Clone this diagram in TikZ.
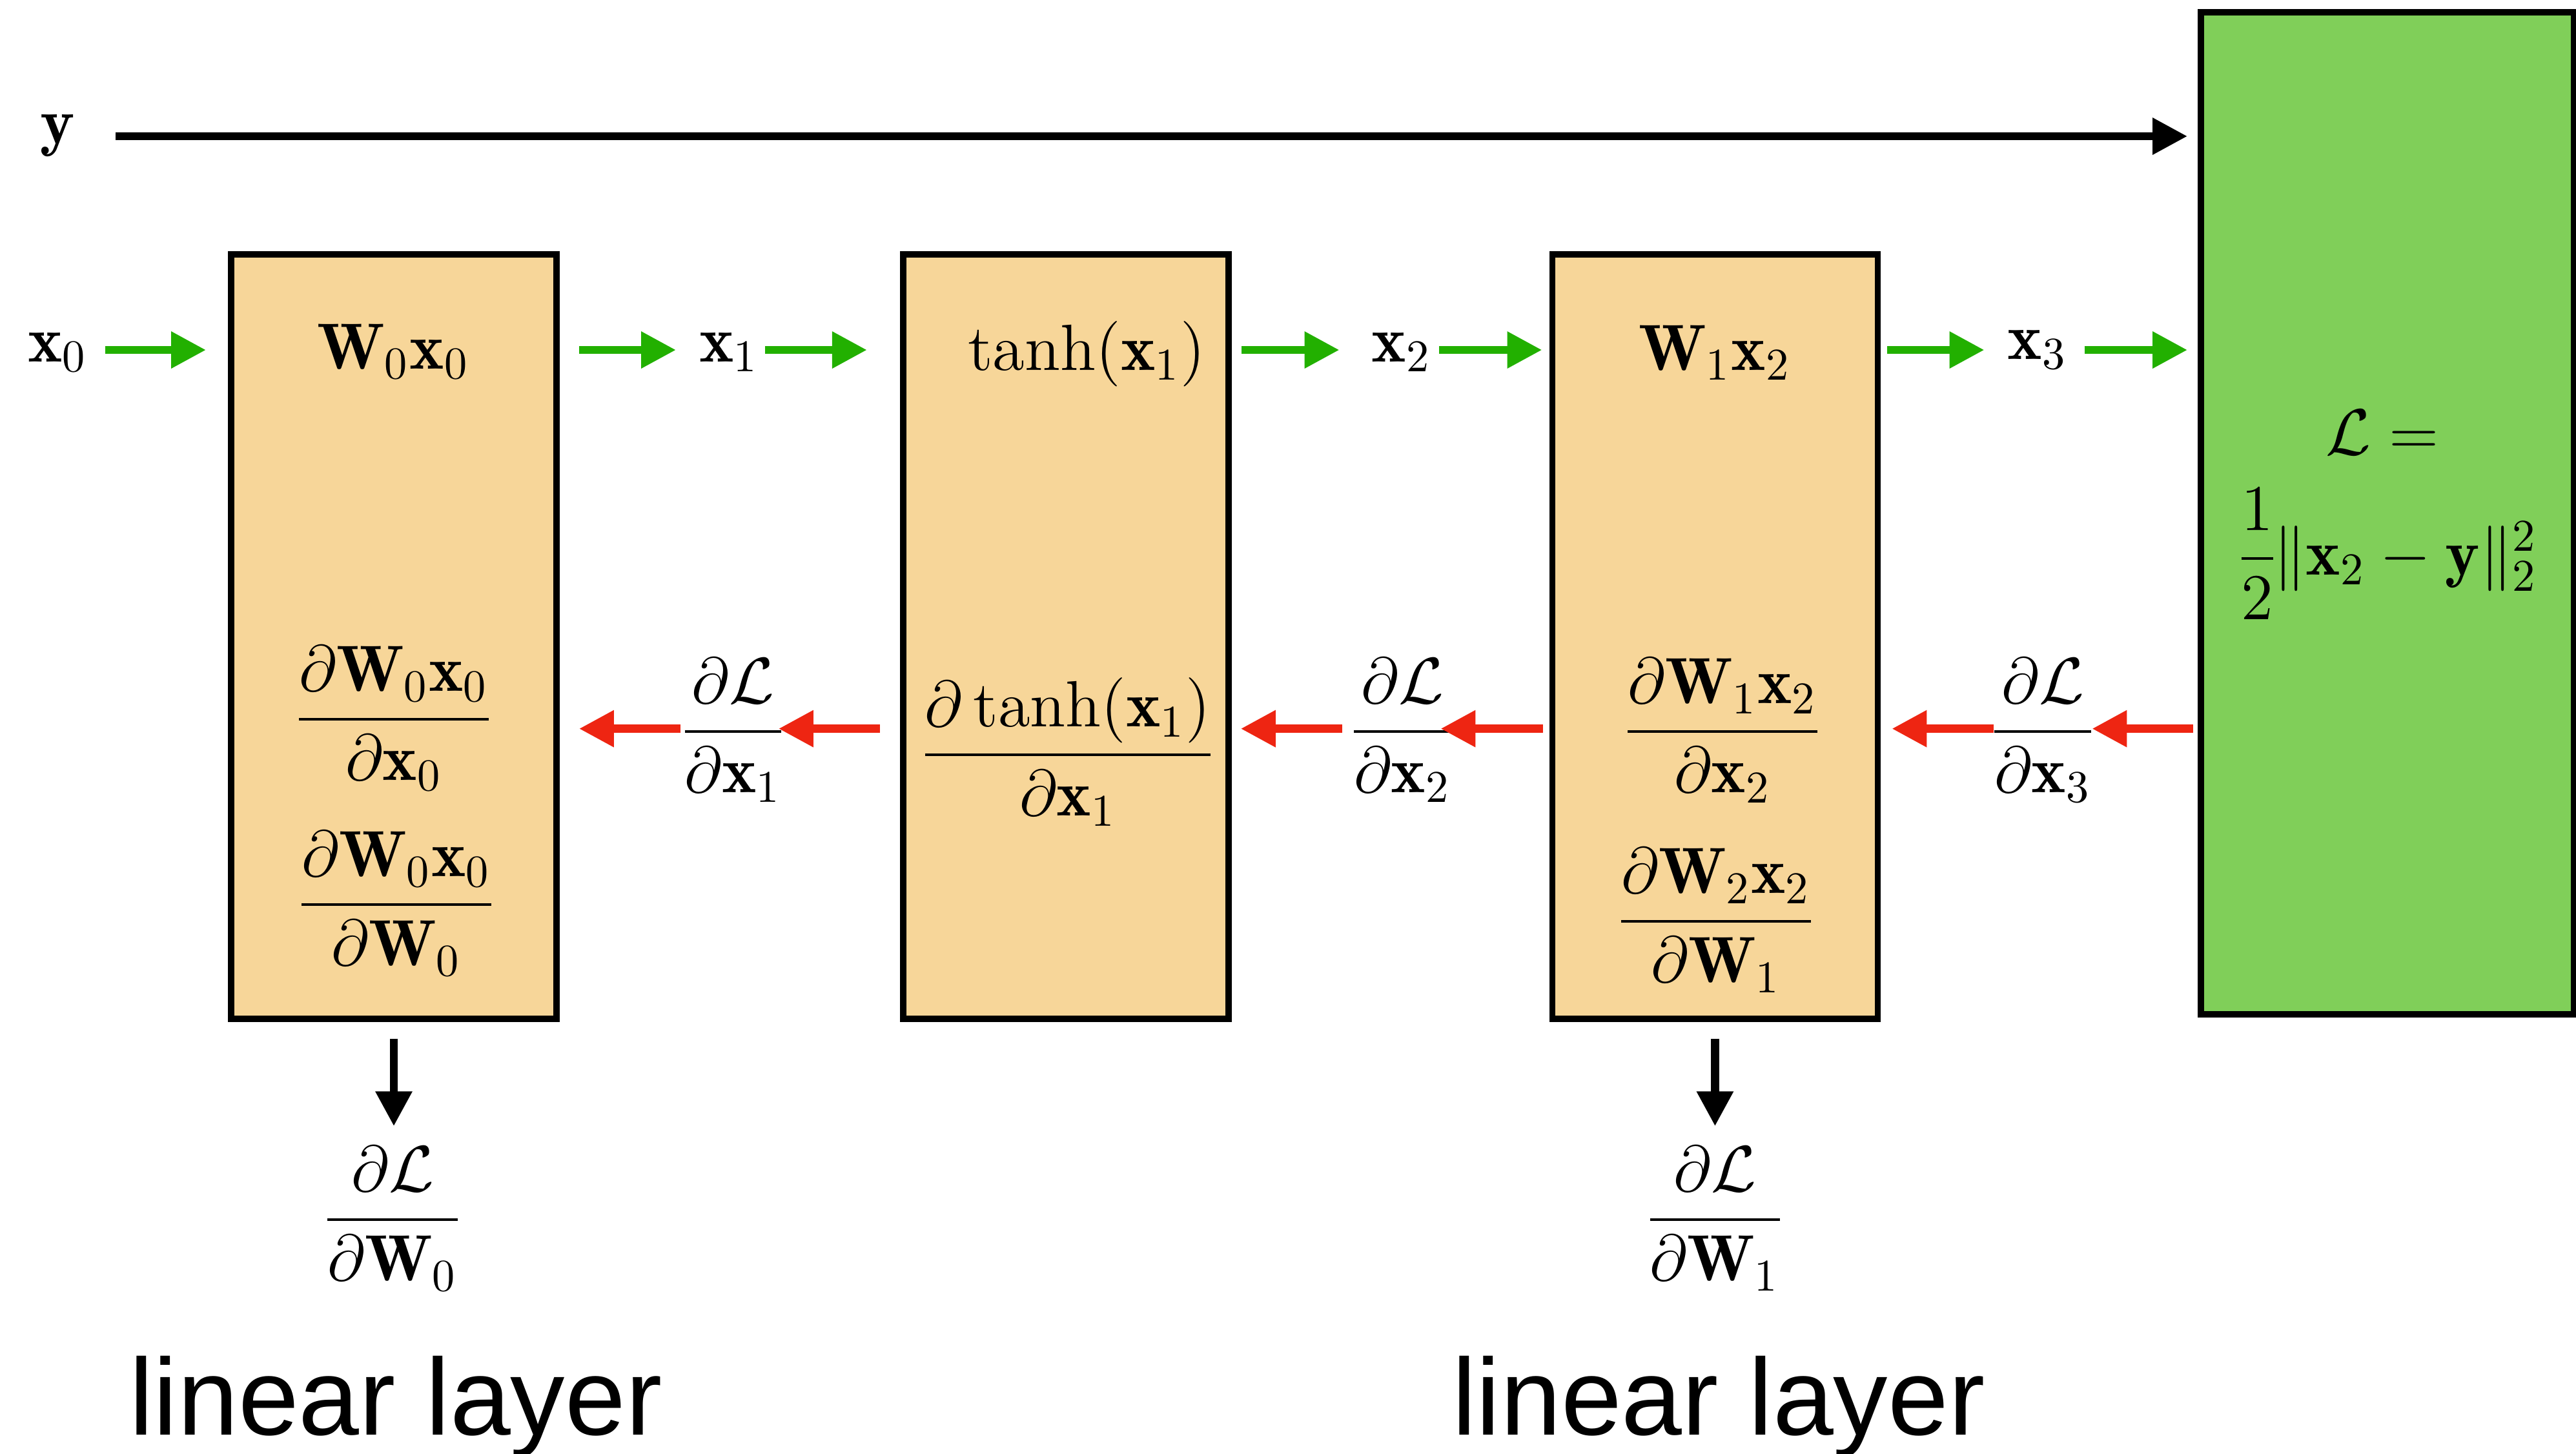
\documentclass[tikz,border=0pt]{standalone}
\usepackage{amsmath}
\usepackage{fontspec}
\newfontfamily\layerfont{Liberation Sans}
\usetikzlibrary{arrows.meta}
\setlength{\nulldelimiterspace}{0pt}
\definecolor{boxfill}{HTML}{F7D699}
\definecolor{lossfill}{HTML}{80CF59}
\definecolor{fwdgreen}{HTML}{22B000}
\definecolor{bwdred}{HTML}{EE2512}

\begin{document}
\begin{tikzpicture}[
  font=\Large,
  layerbox/.style={draw, line width=1.4pt, fill=boxfill, minimum width=2.52cm, minimum height=5.92cm, inner sep=0pt},
  lossbox/.style={draw, line width=1.4pt, fill=lossfill, minimum width=2.89cm, minimum height=7.76cm, inner sep=0pt},
  lbl/.style={inner sep=0pt, anchor=base},
  arr/.style={line width=1.8pt, -{Triangle[length=2.7mm,width=2.7mm]}},
  fwd/.style={arr, fwdgreen},
  bwd/.style={arr, bwdred}
]
  % bounding box
  \useasboundingbox (0,0) rectangle (19.95,-11.255);
  % Blocks
  \node[layerbox] (lin0) at (3.05,-4.93) {};
  \node[layerbox] (act) at (8.254,-4.93) {};
  \node[layerbox] (lin1) at (13.282,-4.93) {};
  \node[lossbox] (loss) at (18.49,-3.975) {};
  % Rows
  \coordinate (target) at (0,-1.055);
  \coordinate (fw) at (0,-2.71);
  \coordinate (bw) at (0,-5.643);
  % Forward labels
  \node[lbl] (y) at (0.445,-1.11) {$\mathbf{y}$};
  \node[lbl] (x0) at (0.4475,-2.80) {$\mathbf{x}_0$};
  \node[lbl] (x1) at (5.6475,-2.80) {$\mathbf{x}_1$};
  \node[lbl] (x2) at (10.855,-2.80) {$\mathbf{x}_2$};
  \node[lbl] (x3) at (15.78,-2.78) {$\mathbf{x}_3$};
  % Block contents
  \node[lbl] (f0) at (3.045,-2.855) {$\mathbf{W}_0\mathbf{x}_0$};
  \node[lbl] (f1) at (8.415,-2.866) {$\tanh(\mathbf{x}_1)$};
  \node[lbl] (f2) at (13.28,-2.865) {$\mathbf{W}_1\mathbf{x}_2$};
  \node[lbl] (j0x) at (3.05,-5.697) {$\dfrac{\partial\mathbf{W}_0\mathbf{x}_0}{\partial\mathbf{x}_0}$};
  \node[lbl] (j0w) at (3.07,-7.132) {$\dfrac{\partial\mathbf{W}_0\mathbf{x}_0}{\partial\mathbf{W}_0}$};
  \node[lbl] (j1x) at (8.27,-5.972) {$\dfrac{\partial\tanh(\mathbf{x}_1)}{\partial\mathbf{x}_1}$};
  \node[lbl] (j2x) at (13.34,-5.792) {$\dfrac{\partial\mathbf{W}_1\mathbf{x}_2}{\partial\mathbf{x}_2}$};
  \node[lbl] (j2w) at (13.29,-7.262) {$\dfrac{\partial\mathbf{W}_2\mathbf{x}_2}{\partial\mathbf{W}_1}$};
  % Loss
  \node[lbl] (lossdef) at (18.45,-3.52) {$\mathcal{L} =$};
  \node[lbl] (lossval) at (18.505,-4.452) {$\dfrac{1}{2}\|\mathbf{x}_2 - \mathbf{y}\|_2^2$};
  % Backward labels
  \node[lbl] (gx1) at (5.6775,-5.79) {$\dfrac{\partial\mathcal{L}}{\partial\mathbf{x}_1}$};
  \node[lbl] (gx2) at (10.86,-5.79) {$\dfrac{\partial\mathcal{L}}{\partial\mathbf{x}_2}$};
  \node[lbl] (gx3) at (15.82,-5.79) {$\dfrac{\partial\mathcal{L}}{\partial\mathbf{x}_3}$};
  \node[lbl] (gW0) at (3.04,-9.572) {$\dfrac{\partial\mathcal{L}}{\partial\mathbf{W}_0}$};
  \node[lbl] (gW1) at (13.28,-9.572) {$\dfrac{\partial\mathcal{L}}{\partial\mathbf{W}_1}$};
  % Layer names
  \node[lbl, font=\layerfont\fontsize{24}{28}\selectfont] (name0) at (3.065,-11.11) {linear layer};
  \node[lbl, font=\layerfont\fontsize{24}{28}\selectfont] (name1) at (13.31,-11.11) {linear layer};
  % Target
  \draw[arr, shorten <=3.1mm, shorten >=0.8mm] (y.east |- target) -- (loss.west |- target);
  % Forward pass
  \draw[fwd, shorten <=1.3mm, shorten >=1.7mm] (x0.east |- fw) -- (lin0.west |- fw);
  \draw[fwd, shorten <=1.5mm, shorten >=1.75mm] (lin0.east |- fw) -- (x1.west |- fw);
  \draw[fwd, shorten <=0.4mm, shorten >=2.55mm] (x1.east |- fw) -- (act.west |- fw);
  \draw[fwd, shorten <=0.75mm, shorten >=2.45mm] (act.east |- fw) -- (x2.west |- fw);
  \draw[fwd, shorten <=0.55mm, shorten >=0.55mm] (x2.east |- fw) -- (lin1.west |- fw);
  \draw[fwd, shorten <=0.5mm, shorten >=1.75mm] (lin1.east |- fw) -- (x3.west |- fw);
  \draw[fwd, shorten <=1.25mm, shorten >=0.8mm] (x3.east |- fw) -- (loss.west |- fw);
  % Backward pass
  \draw[bwd, shorten <=0.35mm] (loss.west |- bw) -- (gx3.east |- bw);
  \draw[bwd, shorten >=0.85mm] (gx3.west |- bw) -- (lin1.east |- bw);
  \draw[bwd, shorten <=0.5mm, shorten >=-0.85mm] (lin1.west |- bw) -- (gx2.east |- bw);
  \draw[bwd, shorten <=0.85mm, shorten >=0.7mm] (gx2.west |- bw) -- (act.east |- bw);
  \draw[bwd, shorten <=1.55mm, shorten >=-0.3mm] (act.west |- bw) -- (gx1.east |- bw);
  \draw[bwd, shorten <=0.25mm, shorten >=1.5mm] (gx1.west |- bw) -- (lin0.east |- bw);
  % Weight gradients
  \draw[arr, shorten <=1.3mm, shorten >=1.5mm] (lin0.south) -- (lin0.south |- gW0.north);
  \draw[arr, shorten <=1.3mm, shorten >=1.5mm] (lin1.south) -- (lin1.south |- gW1.north);
\end{tikzpicture}
\end{document}
